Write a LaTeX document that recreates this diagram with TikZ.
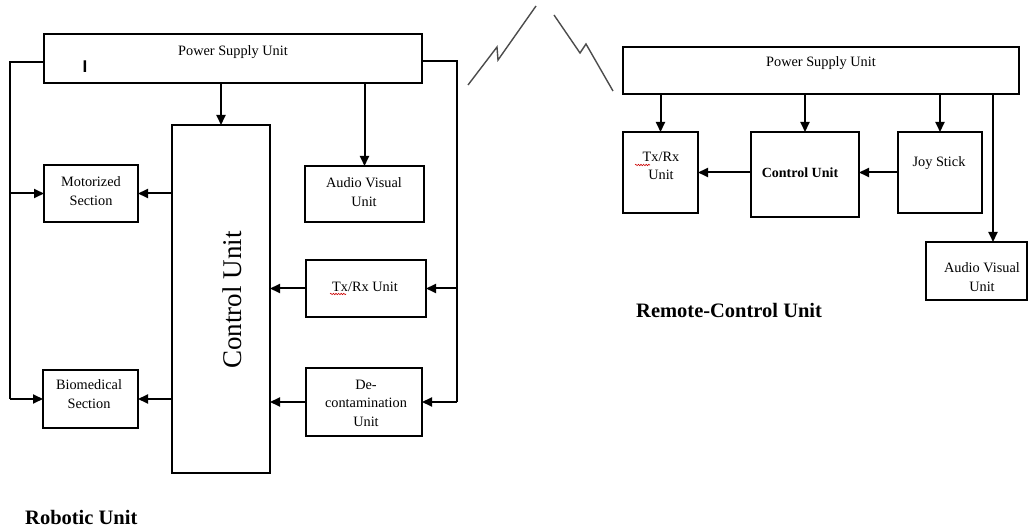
\documentclass[tikz,border=0pt]{standalone}
\usepackage{fontspec}
\setmainfont{Liberation Serif}
\newfontfamily\barfont{Liberation Sans}
\usetikzlibrary{arrows.meta,decorations.pathmorphing}
\newcommand\mybox[5]{\node[blk, minimum width={(#4-#2)*1pt}, minimum height={(#5-#3)*1pt}, anchor=north west] (#1) at (#2,#3) {};}
\begin{document}
\begin{tikzpicture}[x=1pt,y=-1pt,
  blk/.style={draw=black, line width=1.9pt, inner sep=0pt, outer sep=0pt, fill=none},
  lbl/.style={inner sep=0pt, align=center, font=\fontsize{14.3}{18.5}\selectfont},
  lblb/.style={inner sep=0pt, align=center, font=\fontsize{14}{18.5}\selectfont\bfseries},
  ttl/.style={inner sep=0pt, anchor=west, font=\fontsize{20.5}{24}\selectfont\bfseries},
  wire/.style={line width=2pt, black},
  arr/.style={wire, -{Triangle[length=10pt,width=9pt]}},
  bolt/.style={line width=1.4pt, draw=black!70},
  squig/.style={red!80!black, line width=0.6pt, decorate, decoration={snake, amplitude=0.7pt, segment length=2.6pt}}]
\fill[white] (0,0) rectangle (1029,529);
\useasboundingbox (0,0) rectangle (1029,529);

% ---------- Robotic unit ----------
\mybox{psuL}{44}{34}{422}{83}
\mybox{cuL}{172}{125}{270}{473}
\mybox{motL}{44}{165}{138}{222}
\mybox{bioL}{43}{370}{138}{428}
\mybox{avL}{305}{166}{424}{222}
\mybox{txL}{306}{260}{426}{317}
\mybox{decL}{306}{368}{422}{436}

\node[lbl] (tpsuL) at (233,52) {Power Supply Unit};
\node[inner sep=0pt, font=\fontsize{17}{17}\selectfont\barfont\bfseries] (cursor) at (85,67) {I};
\node[lbl] (tmotL) at (91,191) {Motorized\\Section};
\node[lbl] (tbioL) at (89,394) {Biomedical\\Section};
\node[lbl] (tavL) at (364,192) {Audio Visual\\Unit};
\node[lbl] (ttxL) at (365,287) {Tx/Rx Unit};
\node[lbl] (tdecL) at (366,403) {De-\\contamination\\Unit};
\node[inner sep=0pt, rotate=90, font=\fontsize{27}{30}\selectfont] (tcuL) at (232,300) {Control Unit};
\node[ttl] (trob) at (25,517) {Robotic Unit};
\draw[squig] (330,294) -- (346,294);

\coordinate (lL) at (10,62);
\coordinate (rL) at (457,61);
\draw[arr] (psuL.south -| cuL.north) -- (cuL.north);
\draw[arr] (psuL.south -| avL.north) -- (avL.north);
\draw[wire] (psuL.west |- lL) -- (lL) -- (lL |- bioL.west);
\draw[arr] (lL |- bioL.west) -- (bioL.west);
\draw[arr] (lL |- motL.west) -- (motL.west);
\draw[arr] (cuL.west |- motL.east) -- (motL.east);
\draw[arr] (cuL.west |- bioL.east) -- (bioL.east);
\draw[wire] (psuL.east |- rL) -- (rL) -- (rL |- decL.east);
\draw[arr] (rL |- decL.east) -- (decL.east);
\draw[arr] (rL |- txL.east) -- (txL.east);
\draw[arr] (txL.west) -- (txL.west -| cuL.east);
\draw[arr] (decL.west) -- (decL.west -| cuL.east);

% ---------- wireless link ----------
\draw[bolt] (468,85) -- (497,47) -- (498,60) -- (536,6);
\draw[bolt] (554,15) -- (580,53) -- (586,44) -- (613,91);

% ---------- Remote-control unit ----------
\mybox{psuR}{623}{47}{1019}{94}
\mybox{txR}{623}{132}{698}{213}
\mybox{cuR}{751}{132}{859}{217}
\mybox{jsR}{898}{132}{982}{213}
\mybox{avR}{926}{242}{1027}{300}

\node[lbl] (tpsuR) at (821,63) {Power Supply Unit};
\node[lbl] (ttxR) at (661,166) {Tx/Rx\\Unit};
\node[lblb] (tcuR) at (800,173) {Control Unit};
\node[lbl] (tjsR) at (939,163) {Joy Stick};
\node[lbl] (tavR) at (982,277) {Audio Visual\\Unit};
\node[ttl] (trem) at (636,310) {Remote-Control Unit};
\draw[squig] (635,165) -- (650,165);

\coordinate (avx) at (993,0);
\draw[arr] (psuR.south -| txR.north) -- (txR.north);
\draw[arr] (psuR.south -| cuR.north) -- (cuR.north);
\draw[arr] (psuR.south -| jsR.north) -- (jsR.north);
\draw[arr] (psuR.south -| avx) -- (avR.north -| avx);
\draw[arr] (jsR.west) -- (jsR.west -| cuR.east);
\draw[arr] (cuR.west |- txR.east) -- (txR.east);
\end{tikzpicture}
\end{document}
